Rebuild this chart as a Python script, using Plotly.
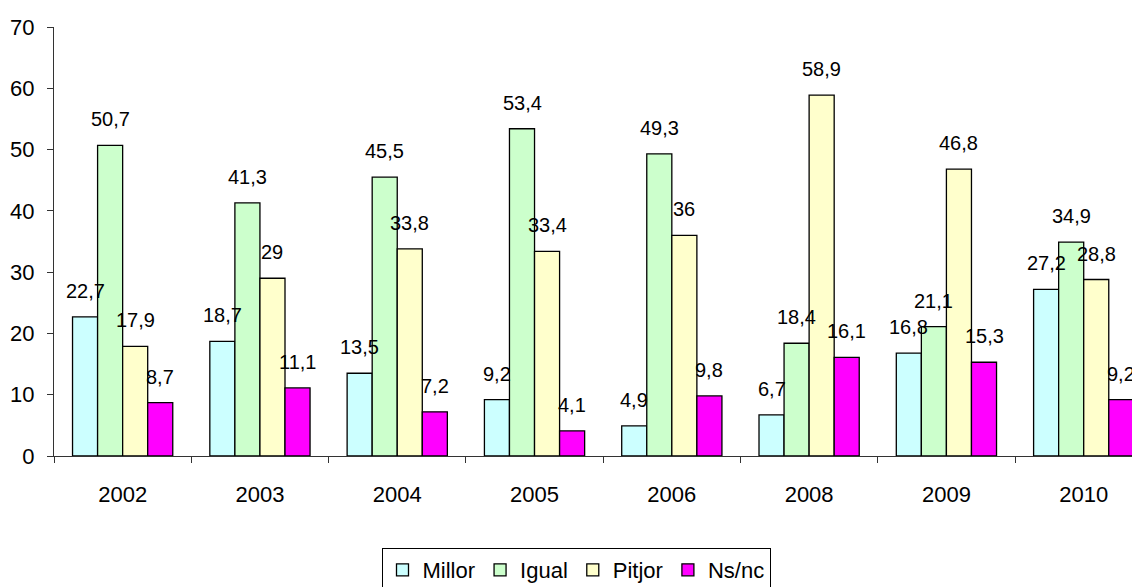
import plotly.graph_objects as go

years = ["2002", "2003", "2004", "2005", "2006", "2008", "2009", "2010"]
millor = [22.7, 18.7, 13.5, 9.2, 4.9, 6.7, 16.8, 27.2]
igual = [50.7, 41.3, 45.5, 53.4, 49.3, 18.4, 21.1, 34.9]
pitjor = [17.9, 29, 33.8, 33.4, 36, 58.9, 46.8, 28.8]
nsnc = [8.7, 11.1, 7.2, 4.1, 9.8, 16.1, 15.3, 9.2]
series_names = ["Millor", "Igual", "Pitjor", "Ns/nc"]
series_vals = [millor, igual, pitjor, nsnc]
colors = ["#CCFFFF", "#CCFFCC", "#FFFFCC", "#FF00FF"]

FONT = "Arial, Liberation Sans, sans-serif"
FS_LABEL = 20
FS_AXIS = 22

# the page body has an 8px margin, so the figure is drawn 8px smaller
W, H = 1132, 579

fig = go.Figure()
for name, vals, col in zip(series_names, series_vals, colors):
    fig.add_trace(go.Bar(
        name=name, x=years, y=vals,
        marker=dict(color=col, line=dict(color="black", width=1.3)),
    ))

bargap = 0.27
bw = (1 - bargap) / 4
offsets = [(-1.5 + k) * bw for k in range(4)]

def fmt(v):
    return f"{v:g}".replace(".", ",")

for k, vals in enumerate(series_vals):
    for i, v in enumerate(vals):
        fig.add_annotation(
            x=i + offsets[k], y=v, xref="x", yref="y",
            text=fmt(v), showarrow=False, yanchor="middle", yshift=26,
            font=dict(family=FONT, size=FS_LABEL, color="black"),
        )

fig.update_layout(
    width=W, height=H,
    margin=dict(l=46, r=0, t=19, b=131, autoexpand=False),
    paper_bgcolor="white", plot_bgcolor="white",
    barmode="group", bargap=bargap, bargroupgap=0,
    font=dict(family=FONT, size=FS_AXIS, color="black"),
    showlegend=True,
    legend=dict(
        orientation="h", xref="container", yref="container",
        x=568 / W, xanchor="center", y=1 - 540 / H, yanchor="top",
        bordercolor="black", borderwidth=1, bgcolor="white",
        font=dict(family=FONT, size=FS_AXIS, color="black"),
        itemwidth=30, tracegroupgap=0,
    ),
)
fig.update_xaxes(
    type="category", range=[-0.5, 7.41],
    showline=True, linecolor="#333", linewidth=1,
    ticks="outside", ticklen=6, tickcolor="#333", tickson="boundaries",
    showgrid=False, zeroline=False, ticklabelstandoff=19,
    tickfont=dict(size=FS_AXIS),
)
fig.update_yaxes(
    range=[0, 70], dtick=10,
    showline=True, linecolor="#333", linewidth=1,
    ticks="outside", ticklen=6, tickcolor="#333",
    showgrid=False, zeroline=False, ticklabelstandoff=8,
    tickfont=dict(size=FS_AXIS),
)

fig.write_html("out.html")
